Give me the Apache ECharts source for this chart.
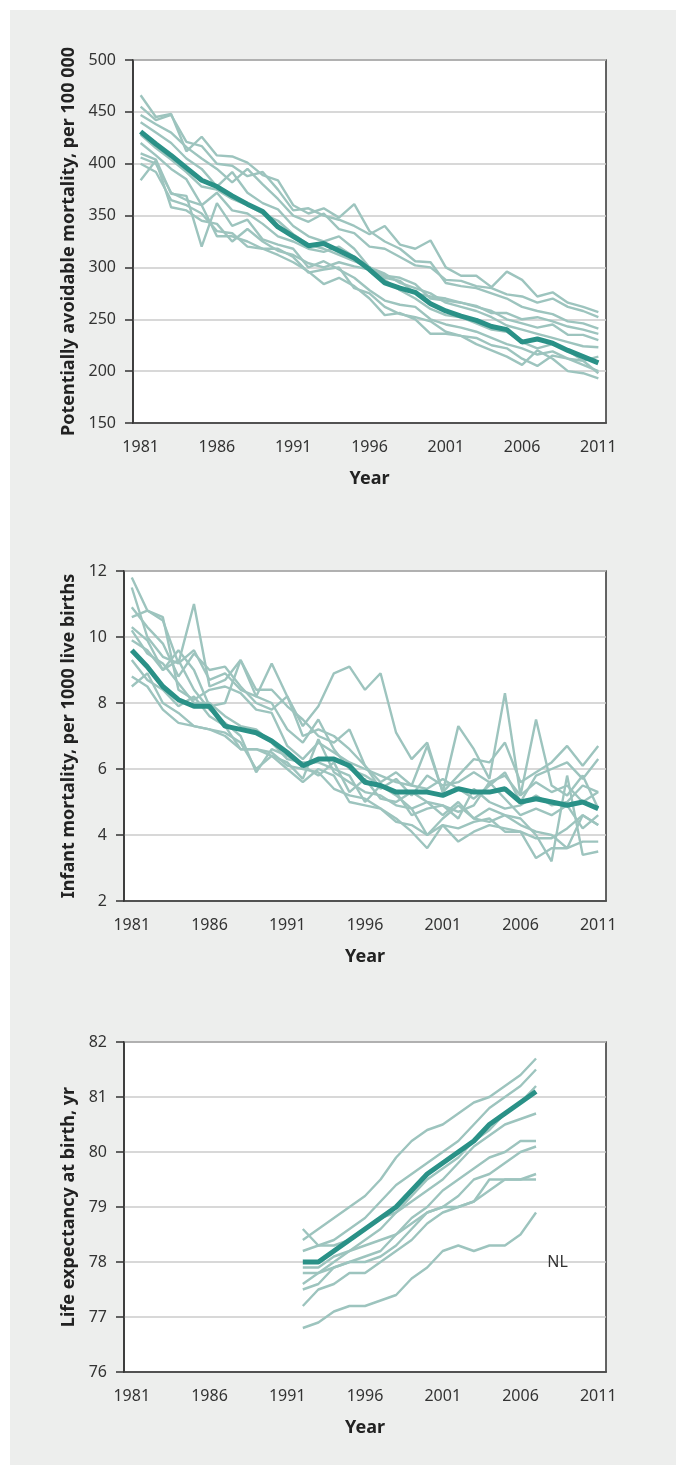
<!DOCTYPE html>
<html>
<head>
<meta charset="utf-8">
<script src="https://cdn.jsdelivr.net/npm/echarts@6/dist/echarts.min.js"></script>
<style>
  html, body { margin: 0; padding: 0; background: #ffffff; }
  #card { position: absolute; left: 10px; top: 10px; width: 666px; height: 1455px; background: #edeeed; }
  #chart { position: absolute; left: 0; top: 0; width: 686px; height: 1475px; }
</style>
</head>
<body>
<div id="card"></div>
<div id="chart"></div>
<script>
// ---------- categories ----------
const years = ['1981','1982','1983','1984','1985','1986','1987','1988','1989','1990',
  '1991','1992','1993','1994','1995','1996','1997','1998','1999','2000',
  '2001','2002','2003','2004','2005','2006','2007','2008','2009','2010','2011'];
const lifeYears = ['1992','1993','1994','1995','1996','1997','1998','1999',
  '2000','2001','2002','2003','2004','2005','2006','2007'];

// ---------- panel 1: potentially avoidable mortality ----------
const avoidableMean = [431,419,408,396,384,378,369,361,354,339,330,321,323,316,309,298,285,280,276,265,258,253,249,243,240,228,231,227,220,214,208];
const avoidableCountries = [
  [466,445,448,412,426,408,407,401,389,384,360,352,357,348,361,335,325,318,306,305,285,282,280,275,270,262,258,255,248,246,241],
  [455,442,447,421,417,400,398,388,392,375,355,357,350,346,340,332,340,322,318,326,300,292,292,281,296,288,272,276,266,262,257],
  [447,438,430,416,405,395,382,395,380,366,350,344,352,337,333,320,318,310,302,300,288,287,282,280,274,272,266,270,262,258,252],
  [440,430,420,405,395,378,392,372,362,356,340,330,325,330,318,300,292,290,284,270,268,266,262,258,250,246,242,245,235,235,230],
  [428,415,404,392,378,375,366,360,352,345,332,322,318,312,306,300,294,285,280,275,266,262,258,252,244,240,236,232,228,224,223],
  [410,404,371,369,320,362,340,346,327,322,318,300,306,298,290,278,268,264,262,250,245,242,238,232,226,222,216,219,212,210,214],
  [406,400,372,365,360,330,330,325,318,318,310,295,298,300,280,275,262,255,252,248,238,234,232,225,222,212,205,215,212,206,200],
  [400,392,365,360,352,335,333,320,318,312,305,296,284,290,282,270,254,256,250,236,236,234,226,220,214,206,220,212,200,198,193],
  [384,403,358,355,345,342,325,337,325,316,312,304,300,305,301,298,290,287,275,272,270,266,263,256,256,250,252,248,243,240,236],
  [420,408,395,385,360,372,355,352,342,330,325,318,315,320,310,300,288,278,270,260,254,252,246,240,238,228,222,226,220,210,198]
];

// ---------- panel 2: infant mortality ----------
const infantMean = [9.6,9.1,8.5,8.1,7.9,7.9,7.3,7.2,7.1,6.85,6.5,6.1,6.3,6.3,6.1,5.6,5.5,5.3,5.3,5.3,5.2,5.4,5.3,5.3,5.4,5.0,5.1,5.0,4.9,5.0,4.8];
const infantCountries = [
  [11.8,10.8,10.5,9.2,11.0,8.5,8.7,9.3,8.2,8.0,7.2,6.8,7.5,6.6,6.0,5.8,5.5,5.2,4.8,5.0,4.6,5.0,4.5,4.8,4.6,4.3,4.1,4.0,3.6,4.6,4.3],
  [11.5,10.0,9.4,9.2,9.6,8.7,8.9,8.4,8.2,9.2,8.2,7.3,7.9,8.9,9.1,8.4,8.9,7.1,6.3,6.8,5.3,7.3,6.6,5.7,8.3,5.2,7.5,5.5,5.2,5.8,4.8],
  [10.9,10.3,9.8,8.8,9.5,9.0,9.1,8.5,8.0,7.8,8.2,7.0,7.2,7.0,6.6,6.1,5.6,5.9,5.5,6.7,5.3,5.8,6.3,6.2,6.8,5.6,5.9,6.2,6.7,6.1,6.7],
  [10.6,10.8,10.6,8.4,8.1,8.4,8.5,8.3,7.8,7.7,6.7,6.3,6.8,6.5,6.2,6.0,5.8,5.6,5.5,5.4,5.7,5.4,5.1,5.5,5.9,5.0,5.8,6.0,6.2,5.7,6.3],
  [10.2,9.5,9.2,8.6,8.0,8.0,7.6,7.3,7.2,6.8,6.3,6.2,6.2,6.0,5.8,5.0,5.5,5.3,4.6,4.8,4.9,4.5,5.4,5.0,4.8,4.9,5.2,4.9,5.0,5.5,5.3],
  [8.8,8.5,7.8,7.4,7.3,7.2,7.0,6.6,6.6,6.5,6.1,6.0,5.9,5.4,5.2,5.1,4.8,4.4,4.3,4.0,4.3,3.8,4.1,4.3,4.2,4.1,3.9,3.9,4.2,4.6,4.3],
  [8.5,8.9,8.0,7.7,7.3,7.2,7.1,6.8,6.0,6.4,6.0,5.6,6.0,5.8,5.0,4.9,4.8,4.5,4.1,3.6,4.3,4.2,4.4,4.5,4.1,4.1,3.3,3.6,3.6,3.8,3.8],
  [9.9,9.6,9.0,9.3,8.4,7.8,7.4,7.0,5.9,6.6,6.4,6.1,5.8,6.2,5.3,5.7,5.1,5.0,5.3,5.0,4.9,4.7,4.9,5.6,5.1,4.6,4.8,4.6,4.9,4.2,4.6],
  [9.3,8.7,8.4,7.9,8.2,7.6,7.3,6.6,6.6,6.4,6.2,5.7,6.9,5.9,5.6,5.3,5.2,4.9,4.8,4.0,4.5,4.9,4.5,4.4,4.6,4.5,4.0,3.2,5.8,3.4,3.5],
  [10.3,9.9,9.0,9.6,9.0,7.9,8.0,9.3,8.4,8.4,7.9,7.5,7.0,6.8,7.2,6.1,5.4,5.7,5.2,5.8,5.5,5.6,5.9,5.6,5.8,5.2,5.6,5.3,5.5,5.0,5.3]
];

// ---------- panel 3: life expectancy (1992-2007) ----------
const lifeMean = [78.0,78.0,78.2,78.4,78.6,78.8,79.0,79.3,79.6,79.8,80.0,80.2,80.5,80.7,80.9,81.1];
const lifeCountries = [
  [78.4,78.6,78.8,79.0,79.2,79.5,79.9,80.2,80.4,80.5,80.7,80.9,81.0,81.2,81.4,81.7],
  [78.2,78.3,78.4,78.6,78.8,79.1,79.4,79.6,79.8,80.0,80.2,80.5,80.8,81.0,81.2,81.5],
  [77.8,77.8,78.0,78.2,78.4,78.6,78.9,79.2,79.5,79.7,79.9,80.2,80.4,80.7,80.9,81.2],
  [78.6,78.3,78.3,78.4,78.6,78.8,78.9,79.1,79.3,79.5,79.8,80.1,80.3,80.5,80.6,80.7],
  [77.6,77.8,77.9,78.0,78.1,78.2,78.5,78.8,79.0,79.3,79.5,79.7,79.9,80.0,80.2,80.2],
  [77.9,77.9,78.1,78.2,78.3,78.4,78.5,78.7,78.9,79.0,79.2,79.5,79.6,79.8,80.0,80.1],
  [77.5,77.6,77.9,78.0,78.0,78.1,78.3,78.6,78.9,79.0,79.0,79.1,79.3,79.5,79.5,79.6],
  [77.2,77.5,77.6,77.8,77.8,78.0,78.2,78.4,78.7,78.9,79.0,79.1,79.5,79.5,79.5,79.5]
];
const lifeNL = [76.8,76.9,77.1,77.2,77.2,77.3,77.4,77.7,77.9,78.2,78.3,78.2,78.3,78.3,78.5,78.9];
const nlLabel = 'NL';

// ---------- tick / axis text ----------
const yNames = ['Potentially avoidable mortality, per 100 000',
  'Infant mortality, per 1000 live births',
  'Life expectancy at birth, yr'];
const xName = 'Year';

// ---------- styling ----------
const FONT = 'Noto Sans';
const THIN = '#9dc4be';
const THICK = '#2a9187';
const AXIS = '#333333';

function xAxisFor(i) {
  return {
    gridIndex: i, type: 'category', data: years, boundaryGap: true,
    axisLine: { show: true, lineStyle: { color: AXIS, width: 1.5 } },
    axisTick: { show: false },
    axisLabel: { interval: 4, margin: 16, fontSize: 16, color: '#333', fontFamily: FONT },
    splitLine: { show: false },
    name: xName, nameLocation: 'middle', nameGap: 47,
    nameTextStyle: { fontSize: 18, fontWeight: 'bold', color: '#222', fontFamily: FONT }
  };
}
function yAxisFor(i, min, max, interval, gap) {
  return {
    gridIndex: i, type: 'value', min: min, max: max, interval: interval,
    axisLine: { show: true, lineStyle: { color: AXIS, width: 1.5 } },
    axisTick: { show: true, inside: false, length: 8, lineStyle: { color: AXIS, width: 1.5 } },
    axisLabel: { margin: 17, fontSize: 16, color: '#333', fontFamily: FONT },
    splitLine: { show: true, lineStyle: { color: '#cbcbcb', width: 1.5 } },
    name: yNames[i], nameLocation: 'middle', nameGap: gap,
    nameTextStyle: { fontSize: 18, fontWeight: 'bold', color: '#222', fontFamily: FONT }
  };
}

const series = [];
function thin(i, data) {
  series.push({ type: 'line', xAxisIndex: i, yAxisIndex: i, data: data, symbol: 'none',
    lineStyle: { color: THIN, width: 2.4 }, z: 2, silent: true, connectNulls: false });
}
function thick(i, data) {
  series.push({ type: 'line', xAxisIndex: i, yAxisIndex: i, data: data, symbol: 'none',
    lineStyle: { color: THICK, width: 5 }, z: 4, silent: true });
}
avoidableCountries.forEach(d => thin(0, d));
thick(0, avoidableMean);
infantCountries.forEach(d => thin(1, d));
thick(1, infantMean);
const pair = arr => arr.map((v, k) => [lifeYears[k], v]);
lifeCountries.forEach(d => thin(2, pair(d)));
series.push({ type: 'line', xAxisIndex: 2, yAxisIndex: 2, data: pair(lifeNL), symbol: 'none',
  lineStyle: { color: THIN, width: 2.4 }, z: 2, silent: true,
  markPoint: { symbol: 'circle', symbolSize: 0, silent: true,
    data: [{ coord: ['2008', 78.0], value: nlLabel }],
    label: { show: true, formatter: nlLabel, position: 'inside', offset: [6, 0],
      fontSize: 16, color: '#333', fontFamily: FONT } } });
thick(2, pair(lifeMean));

const gridBase = { show: true, backgroundColor: '#ffffff', borderColor: AXIS, borderWidth: 1.5 };
const option = {
  animation: false,
  backgroundColor: 'transparent',
  textStyle: { fontFamily: FONT },
  grid: [
    Object.assign({ left: 133, top: 60, width: 473, height: 363 }, gridBase),
    Object.assign({ left: 124, top: 571, width: 482, height: 330 }, gridBase),
    Object.assign({ left: 124, top: 1042, width: 482, height: 330 }, gridBase)
  ],
  xAxis: [xAxisFor(0), xAxisFor(1), xAxisFor(2)],
  yAxis: [yAxisFor(0, 150, 500, 50, 52), yAxisFor(1, 2, 12, 2, 45), yAxisFor(2, 76, 82, 1, 45)],
  series: series
};
const chart = echarts.init(document.getElementById('chart'), null, { renderer: 'canvas' });
chart.setOption(option);
</script>
</body>
</html>
